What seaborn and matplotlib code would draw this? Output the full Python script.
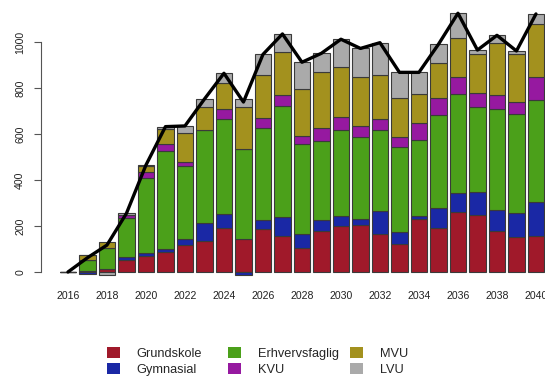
import numpy as np
import pandas as pd
import matplotlib
matplotlib.use("Agg")
import matplotlib.pyplot as plt
from matplotlib.patches import Patch
import seaborn as sns

# Yearly change per education level (stacked), with the net total as a line
years = list(range(2016, 2041))
grundskole = [0, 3, 11, 52, 70, 88, 117, 136, 193, 143, 185, 157, 106, 177, 200,
              206, 164, 122, 230, 193, 261, 248, 180, 151, 158]
gymnasial = [0, -10, 3, 15, 14, 11, 26, 78, 59, -13, 41, 84, 58, 49, 43,
             23, 101, 53, 13, 87, 81, 101, 90, 104, 145]
erhvervsfaglig = [0, 49, 90, 166, 326, 429, 319, 403, 414, 390, 402, 481, 393, 345, 374,
                  357, 352, 370, 331, 403, 430, 370, 437, 431, 445]
kvu = [0, 0, 0, 16, 26, 27, 18, 0, 44, 0, 40, 48, 36, 54, 55,
       50, 48, 43, 75, 72, 77, 61, 63, 52, 98]
mvu = [0, 20, 25, 0, 25, 65, 126, 99, 110, 183, 189, 185, 201, 243, 218,
       213, 192, 167, 125, 155, 167, 166, 224, 208, 231]
lvu = [0, 0, -12, 6, 4, 12, 29, 36, 44, 36, 89, 80, 118, 83, 122,
       123, 140, 113, 94, 80, 109, 19, 35, 15, 45]

series_names = ["Grundskole", "Gymnasial", "Erhvervsfaglig", "KVU", "MVU", "LVU"]
series_values = [grundskole, gymnasial, erhvervsfaglig, kvu, mvu, lvu]
colors = ["#A0192A", "#1A28A5", "#4BA01A", "#9619A0", "#A3911E", "#AAAAAA"]

df = pd.DataFrame({"year": [str(y) for y in years]})
for name, vals in zip(series_names, series_values):
    df[name] = vals
totals = df[series_names].sum(axis=1).to_numpy()

sns.set_theme(style="white")
plt.rcParams["font.family"] = ["Liberation Sans", "DejaVu Sans"]

W, H = 545, 376
fig = plt.figure(figsize=(W / 100, H / 100), dpi=100)
left_px, bottom_px, height_px = 40.5, 285.8, 282.9
ax = fig.add_axes([left_px / W, (H - bottom_px) / H, (W - left_px) / W, height_px / H])

n = len(years)
pos_base = np.zeros(n)
neg_base = np.zeros(n)
for name, color in zip(series_names, colors):
    vals = df[name].to_numpy(dtype=float)
    bottoms = np.where(vals >= 0, pos_base, neg_base)
    sns.barplot(data=df, x="year", y=name, order=df["year"].tolist(), color=color,
                saturation=1, width=0.833, bottom=bottoms, errorbar=None,
                edgecolor="#3a3a3a", linewidth=0.8, ax=ax)
    pos_base += np.clip(vals, 0, None)
    neg_base += np.clip(vals, None, 0)

sns.lineplot(x=np.arange(n), y=totals, color="black", linewidth=2.4, ax=ax, zorder=5)

ax.set_xlim(-1.408, -1.408 + (W - left_px) / 19.5)
ax.set_ylim(-60, 1170)
ax.set_xlabel("")
ax.set_ylabel("")

for side in ["top", "right", "bottom"]:
    ax.spines[side].set_visible(False)
ax.spines["left"].set_bounds(0, 1000)
ax.spines["left"].set_color("#555555")
ax.spines["left"].set_linewidth(0.8)

ax.set_yticks(range(0, 1001, 200))
ax.tick_params(axis="y", left=True, length=5, width=0.8, color="#555555",
               pad=6, labelsize=7.6, labelcolor="#222222")
for tl in ax.get_yticklabels():
    tl.set_rotation(90)
    tl.set_va("center")

ax.set_xticks(range(0, n, 2))
ax.set_xticklabels([str(y) for y in years[::2]])
ax.tick_params(axis="x", bottom=False, length=0, pad=4, labelsize=7.6, labelcolor="#222222")

# Legend in three columns below the chart
col_x = [107, 228, 350]
for c in range(3):
    handles = [Patch(facecolor=colors[2 * c + r], edgecolor="none") for r in range(2)]
    labels = [series_names[2 * c + r] for r in range(2)]
    fig.legend(handles, labels, loc="upper left",
               bbox_to_anchor=(col_x[c] / W, 1 - 347.5 / H),
               frameon=False, fontsize=9.2, borderpad=0, borderaxespad=0,
               handlelength=1.0, handleheight=0.85, handletextpad=1.33,
               labelspacing=0.26)

fig.savefig("out.png", dpi=100)
